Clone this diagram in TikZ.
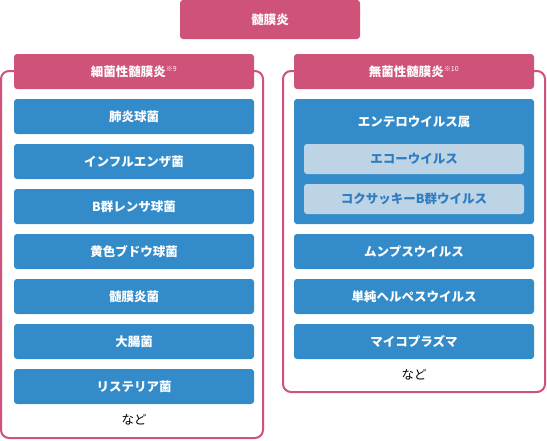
\documentclass[tikz,border=0pt]{standalone}
\usepackage{fontspec}
\setmainfont{Noto Sans CJK JP}
\definecolor{roze}{HTML}{CF5279}
\definecolor{blauw}{HTML}{338CC9}
\definecolor{lichtblauw}{HTML}{BDD4E6}
\definecolor{tekstblauw}{HTML}{2F7CBF}
\tikzset{
  kop/.style={fill=roze, text=white, rounded corners=3pt, inner sep=0pt,
    minimum width=240pt, minimum height=35pt, font=\bfseries\fontsize{12.5}{14}\selectfont},
  vak/.style={fill=blauw, text=white, rounded corners=3pt, inner sep=0pt,
    minimum width=240pt, minimum height=35pt, font=\bfseries\fontsize{12.5}{14}\selectfont},
  subvak/.style={fill=lichtblauw, text=tekstblauw, rounded corners=3pt, inner sep=0pt,
    minimum width=220pt, minimum height=30pt, font=\bfseries\fontsize{12.5}{14}\selectfont},
  kader/.style={draw=roze, line width=2pt, rounded corners=8pt},
  enz/.style={font=\fontsize{12.5}{14}\selectfont}
}
\newcommand{\noot}[1]{\textsuperscript{\normalfont\fontsize{7}{8}\selectfont ※#1}}
\begin{document}
\begin{tikzpicture}[x=1pt,y=-1pt]
\useasboundingbox (0,0) rectangle (547,440);

% Hoofdvak
\node[kop, minimum width=180pt, minimum height=39pt] (hoofd) at (270,19.5) {髄膜炎};

% Bacterieel (links)
\begin{scope}
\draw[kader] (1,71) rectangle (263,438);
\node[kop] (bact) at (134,71.5) {細菌性髄膜炎\noot{9}};
\node[vak] (pneumo) at (134,116.5) {肺炎球菌};
\node[vak] (influ) at (134,161.5) {インフルエンザ菌};
\node[vak] (strepb) at (134,206.5) {B群レンサ球菌};
\node[vak] (staph) at (134,251.5) {黄色ブドウ球菌};
\node[vak] (menin) at (134,296.5) {髄膜炎菌};
\node[vak] (coli) at (134,341.5) {大腸菌};
\node[vak] (lister) at (134,386.5) {リステリア菌};
\node[enz] (bactenz) at (134,420) {など};
\end{scope}

% Aseptisch (rechts)
\begin{scope}
\draw[kader] (283,71) rectangle (545,392);
\node[kop] (asept) at (414,71.5) {無菌性髄膜炎\noot{10}};
\node[vak, minimum height=125pt] (entero) at (414,161.5) {};
\node[text=white, font=\bfseries\fontsize{12.5}{14}\selectfont] (enterotitel) at (414,121.5) {エンテロウイルス属};
\node[subvak] (echo) at (414,159) {エコーウイルス};
\node[subvak] (coxb) at (414,199) {コクサッキーB群ウイルス};
\node[vak] (mumps) at (414,251.5) {ムンプスウイルス};
\node[vak] (herpes) at (414,296.5) {単純ヘルペスウイルス};
\node[vak] (myco) at (414,341.5) {マイコプラズマ};
\node[enz] (aseptenz) at (414,375) {など};
\end{scope}
\end{tikzpicture}
\end{document}
